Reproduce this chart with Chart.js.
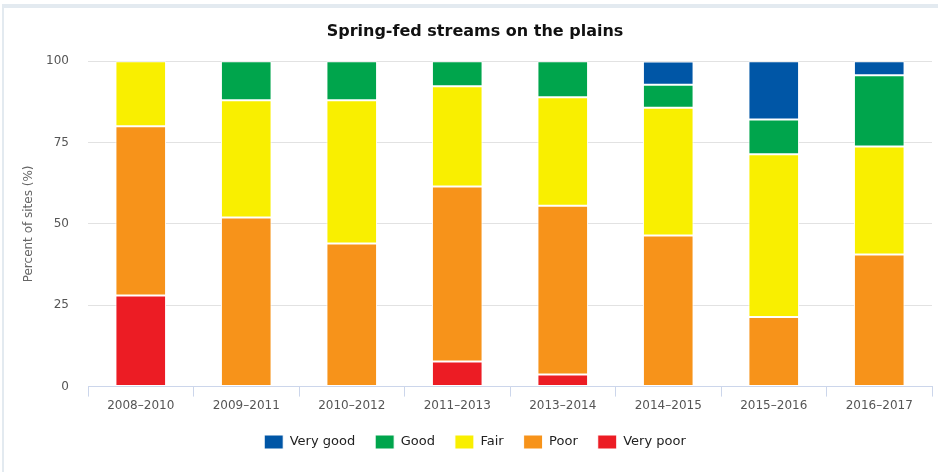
<!DOCTYPE html>
<html>
<head>
<meta charset="utf-8">
<title>Spring-fed streams on the plains</title>
<script src="https://cdn.jsdelivr.net/npm/chart.js@4.4.1/dist/chart.umd.min.js"></script>
<style>
  html, body { margin: 0; padding: 0; background: #fff; }
  #frame {
    position: absolute; left: 2px; top: 4px;
    width: 936px; height: 468px;
    border-top: 4px solid #e3eaf0; border-left: 2px solid #e3eaf0;
    box-sizing: border-box;
  }
  #chart { display: block; }
</style>
</head>
<body>
<div id="frame"><canvas id="chart" width="934" height="464"></canvas></div>
<script>
// Site condition share per monitoring period (percent of sites)
const periods = ['2008–2010', '2009–2011', '2010–2012', '2011–2013', '2013–2014', '2014–2015', '2015–2016', '2016–2017'];
const veryPoor = [28, 0, 0, 7.7, 3.7, 0, 0, 0];
const poor     = [52, 52, 44, 53.8, 51.9, 46.4, 21.4, 40.6];
const fair     = [20, 36, 44, 30.8, 33.3, 39.3, 50.0, 33.2];
const good     = [0, 12, 12, 7.7, 11.1, 7.1, 10.7, 21.9];
const veryGood = [0, 0, 0, 0, 0, 7.1, 17.9, 4.3];
const yTicks   = [0, 25, 50, 75, 100];

const FONT = '"DejaVu Sans", Tahoma, sans-serif';

// bottom of the stack first; legend is reversed so "Very good" comes first
const series = [
  { label: 'Very poor', data: veryPoor, color: '#ec1c24' },
  { label: 'Poor',      data: poor,     color: '#f7931a' },
  { label: 'Fair',      data: fair,     color: '#f9ef00' },
  { label: 'Good',      data: good,     color: '#00a54c' },
  { label: 'Very good', data: veryGood, color: '#0056a6' }
];

new Chart(document.getElementById('chart'), {
  type: 'bar',
  data: {
    labels: periods,
    datasets: series.map(s => ({
      label: s.label,
      data: s.data,
      backgroundColor: s.color,
      borderColor: '#ffffff',
      borderWidth: 1,
      borderSkipped: false,
      categoryPercentage: 1,
      barPercentage: 0.48
    }))
  },
  options: {
    responsive: false,
    animation: false,
    layout: { padding: { left: 14, right: 6, top: 8, bottom: 13 } },
    plugins: {
      title: {
        display: true,
        text: 'Spring-fed streams on the plains',
        color: '#111',
        font: { family: FONT, size: 16, weight: 'bold' },
        padding: { top: 6, bottom: 20 }
      },
      legend: {
        position: 'bottom',
        reverse: true,
        labels: {
          color: '#222',
          font: { family: FONT, size: 13 },
          boxWidth: 19,
          boxHeight: 14,
          padding: 20
        }
      },
      tooltip: { enabled: false }
    },
    scales: {
      x: {
        stacked: true,
        border: { color: '#ccd6eb' },
        grid: {
          display: true,
          offset: true,
          drawOnChartArea: false,
          color: '#ccd6eb',
          tickLength: 10
        },
        ticks: { color: '#555', font: { family: FONT, size: 12 }, padding: 2 }
      },
      y: {
        stacked: true,
        min: 0,
        max: 100,
        afterBuildTicks: axis => { axis.ticks = yTicks.map(v => ({ value: v })); },
        // fixed axis width keeps the plot edge clear of the tick labels
        afterFit: axis => { axis.width = 70; },
        border: { display: false },
        grid: { color: '#e2e2e2', drawTicks: false },
        ticks: { color: '#555', font: { family: FONT, size: 12 }, padding: 19 },
        title: {
          display: true,
          text: 'Percent of sites (%)',
          color: '#666',
          font: { family: FONT, size: 12 },
          padding: { bottom: 4 }
        }
      }
    }
  }
});
</script>
</body>
</html>
